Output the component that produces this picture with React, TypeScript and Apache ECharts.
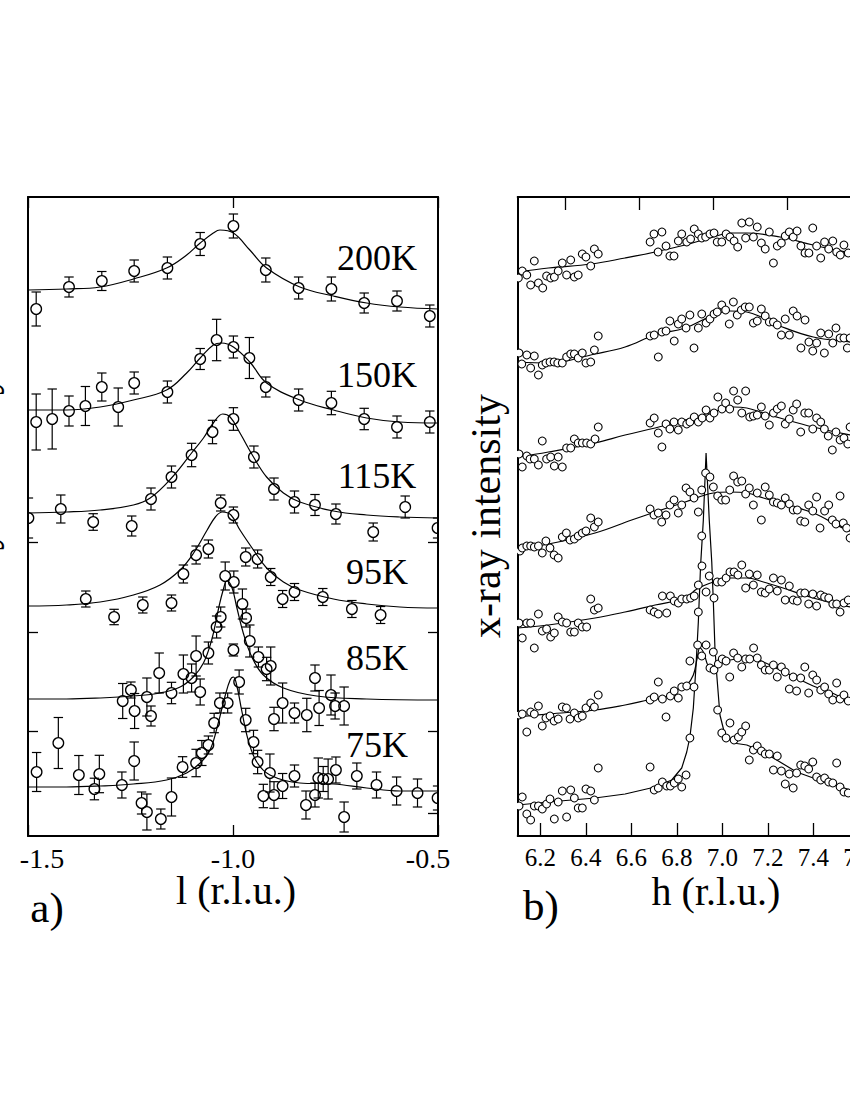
import React, { useEffect, useRef } from "react";
import * as echarts from "echarts";

// ---------- text / ticks ----------
const tempLabels = ["200K", "150K", "115K", "95K", "85K", "75K"];
const hTicks = [6.2, 6.4, 6.6, 6.8, 7.0, 7.2, 7.4, 7.6, 7.8];
const hTopTicks = [6.311, 6.634, 6.96, 7.283, 7.607];
const aLeftTicks = [1.05, 2.04, 2.94];
const aRightTicks = [0.23, 1.05, 2.04, 2.94];

// ---------- panel a: [l, intensity, error] ----------
const a200Pts = [
  [-1.48, 5.27, 0.17], [-1.4, 5.49, 0.1], [-1.32, 5.55, 0.095], [-1.241, 5.65, 0.11], [-1.16, 5.68, 0.11],
  [-1.08, 5.92, 0.115], [-0.999, 6.1, 0.12], [-0.92, 5.66, 0.12], [-0.84, 5.48, 0.11], [-0.76, 5.47, 0.12],
  [-0.68, 5.33, 0.1], [-0.6, 5.35, 0.1], [-0.52, 5.2, 0.11],
];
const a200Fit = [
  [-1.5, 5.46], [-1.406, 5.47], [-1.324, 5.49], [-1.243, 5.57], [-1.162, 5.68], [-1.113, 5.81], [-1.08, 5.93],
  [-1.048, 6.03], [-1.032, 6.06], [-0.999, 6.03], [-0.959, 5.86], [-0.918, 5.68], [-0.837, 5.49], [-0.755, 5.4],
  [-0.674, 5.33], [-0.593, 5.29], [-0.5, 5.27],
];
const a150Pts = [
  [-1.48, 4.14, 0.28], [-1.441, 4.17, 0.3], [-1.4, 4.25, 0.15], [-1.36, 4.3, 0.195], [-1.32, 4.49, 0.14],
  [-1.28, 4.29, 0.19], [-1.241, 4.53, 0.11], [-1.16, 4.44, 0.11], [-1.08, 4.77, 0.105], [-1.04, 4.96, 0.207],
  [-0.999, 4.89, 0.11], [-0.96, 4.78, 0.205], [-0.92, 4.49, 0.1], [-0.84, 4.36, 0.11], [-0.76, 4.33, 0.117],
  [-0.68, 4.17, 0.107], [-0.6, 4.09, 0.11], [-0.52, 4.14, 0.11],
];
const a150Fit = [
  [-1.5, 4.26], [-1.406, 4.26], [-1.324, 4.29], [-1.243, 4.36], [-1.162, 4.46], [-1.113, 4.63], [-1.08, 4.78],
  [-1.048, 4.91], [-1.028, 4.93], [-0.999, 4.89], [-0.959, 4.74], [-0.918, 4.53], [-0.837, 4.36], [-0.755, 4.26],
  [-0.674, 4.18], [-0.593, 4.14], [-0.5, 4.13],
];
const a115Pts = [
  [-1.499, 3.18, 0.2], [-1.42, 3.27, 0.14], [-1.341, 3.14, 0.083], [-1.247, 3.1, 0.1], [-1.2, 3.37, 0.11],
  [-1.15, 3.59, 0.11], [-1.101, 3.81, 0.117], [-1.05, 4.04, 0.117], [-0.999, 4.17, 0.113], [-0.949, 3.79, 0.11],
  [-0.9, 3.47, 0.11], [-0.85, 3.34, 0.11], [-0.8, 3.31, 0.105], [-0.749, 3.22, 0.1], [-0.658, 3.04, 0.09],
  [-0.58, 3.29, 0.11], [-0.501, 3.08, 0.1],
];
const a115Fit = [
  [-1.5, 3.23], [-1.406, 3.24], [-1.324, 3.26], [-1.243, 3.31], [-1.202, 3.38], [-1.15, 3.58], [-1.101, 3.83],
  [-1.072, 3.98], [-1.048, 4.13], [-1.025, 4.22], [-1.007, 4.19], [-0.983, 4.03], [-0.95, 3.79], [-0.918, 3.59],
  [-0.877, 3.43], [-0.837, 3.34], [-0.755, 3.25], [-0.674, 3.21], [-0.593, 3.19], [-0.5, 3.18],
];
const a95Pts = [
  [-1.359, 2.37, 0.08], [-1.29, 2.19, 0.077], [-1.22, 2.31, 0.08], [-1.15, 2.33, 0.08], [-1.121, 2.62, 0.09],
  [-1.09, 2.81, 0.09], [-1.06, 2.87, 0.09], [-1.03, 3.33, 0.08], [-0.999, 3.21, 0.08], [-0.969, 2.79, 0.09],
  [-0.94, 2.77, 0.09], [-0.908, 2.59, 0.085], [-0.879, 2.37, 0.085], [-0.85, 2.44, 0.085], [-0.781, 2.39, 0.085],
  [-0.71, 2.27, 0.085], [-0.64, 2.21, 0.085],
];
const a95Fit = [
  [-1.5, 2.3], [-1.406, 2.31], [-1.324, 2.34], [-1.243, 2.41], [-1.178, 2.51], [-1.129, 2.66], [-1.096, 2.83],
  [-1.063, 3.06], [-1.043, 3.19], [-1.026, 3.24], [-1.005, 3.21], [-0.983, 3.06], [-0.95, 2.86], [-0.918, 2.68],
  [-0.877, 2.54], [-0.837, 2.46], [-0.755, 2.37], [-0.674, 2.32], [-0.593, 2.29], [-0.5, 2.28],
];
const a85Pts = [
  [-1.269, 1.35, 0.175], [-1.249, 1.46, 0.08], [-1.24, 1.25, 0.175], [-1.21, 1.39, 0.19], [-1.2, 1.2, 0.1],
  [-1.18, 1.63, 0.2], [-1.15, 1.43, 0.107], [-1.121, 1.62, 0.19], [-1.101, 1.58, 0.14], [-1.08, 1.44, 0.13],
  [-1.09, 1.8, 0.2], [-1.06, 1.83, 0.11], [-1.04, 2.09, 0.11], [-1.03, 2.19, 0.1], [-1.019, 2.6, 0.14],
  [-0.998, 2.54, 0.11], [-0.977, 2.32, 0.15], [-0.968, 2.18, 0.09], [-0.959, 1.95, 0.16], [-0.999, 1.86, 0.06],
  [-0.938, 1.79, 0.1], [-0.918, 1.67, 0.117], [-0.908, 1.7, 0.19], [-0.879, 1.33, 0.2], [-0.9, 1.17, 0.117],
  [-0.85, 1.23, 0.1], [-0.82, 1.21, 0.167], [-0.8, 1.58, 0.13], [-0.79, 1.28, 0.175], [-0.761, 1.41, 0.2],
  [-0.751, 1.3, 0.13], [-0.729, 1.3, 0.19],
];
const a85Fit = [
  [-1.5, 1.37], [-1.406, 1.37], [-1.324, 1.38], [-1.243, 1.4], [-1.178, 1.43], [-1.129, 1.49], [-1.097, 1.59],
  [-1.072, 1.73], [-1.052, 1.96], [-1.036, 2.26], [-1.024, 2.46], [-1.015, 2.55], [-1.003, 2.49], [-0.991, 2.29],
  [-0.975, 2.03], [-0.954, 1.79], [-0.926, 1.61], [-0.877, 1.48], [-0.796, 1.4], [-0.674, 1.37], [-0.5, 1.36],
];
const a75Pts = [
  [-1.479, 0.64, 0.195], [-1.426, 0.93, 0.255], [-1.376, 0.61, 0.195], [-1.338, 0.47, 0.108], [-1.326, 0.62, 0.187],
  [-1.271, 0.51, 0.13], [-1.241, 0.75, 0.19], [-1.223, 0.33, 0.11], [-1.21, 0.24, 0.18], [-1.176, 0.17, 0.1],
  [-1.15, 0.39, 0.19], [-1.123, 0.69, 0.103], [-1.09, 0.73, 0.137], [-1.076, 0.83, 0.125], [-1.06, 0.91, 0.09],
  [-1.046, 1.13, 0.097], [-1.032, 1.33, 0.1], [-1.013, 1.33, 0.1], [-0.985, 1.54, 0.12], [-0.969, 1.16, 0.117],
  [-0.95, 0.94, 0.117], [-0.94, 0.74, 0.117], [-0.926, 0.4, 0.117], [-0.91, 0.63, 0.19], [-0.9, 0.41, 0.133],
  [-0.879, 0.5, 0.125], [-0.85, 0.6, 0.11], [-0.822, 0.31, 0.14], [-0.8, 0.41, 0.12], [-0.792, 0.58, 0.2],
  [-0.78, 0.57, 0.125], [-0.768, 0.57, 0.2], [-0.749, 0.66, 0.13], [-0.729, 0.19, 0.15], [-0.698, 0.6, 0.13],
  [-0.65, 0.51, 0.13], [-0.601, 0.45, 0.14], [-0.55, 0.43, 0.14], [-0.501, 0.38, 0.12],
];
const a75Fit = [
  [-1.5, 0.49], [-1.406, 0.49], [-1.324, 0.5], [-1.243, 0.52], [-1.162, 0.56], [-1.113, 0.63], [-1.08, 0.73],
  [-1.056, 0.86], [-1.036, 1.13], [-1.02, 1.39], [-1.007, 1.56], [-0.999, 1.59], [-0.99, 1.49], [-0.979, 1.26],
  [-0.963, 0.96], [-0.942, 0.74], [-0.91, 0.61], [-0.837, 0.53], [-0.755, 0.52], [-0.674, 0.48], [-0.593, 0.45],
  [-0.5, 0.45],
];

// ---------- panel b: [h, intensity] ----------
const b1Pts = [
  [6.103, 5.58], [6.12, 5.65], [6.14, 5.61], [6.157, 5.51], [6.173, 5.75], [6.191, 5.53], [6.21, 5.48], [6.227, 5.6],
  [6.245, 5.58], [6.261, 5.59], [6.278, 5.65], [6.296, 5.73], [6.315, 5.61], [6.333, 5.76], [6.349, 5.59], [6.366, 5.61],
  [6.384, 5.82], [6.4, 5.79], [6.421, 5.7], [6.437, 5.87], [6.454, 5.82],
  [6.682, 5.94], [6.699, 6.02], [6.734, 6.04], [6.717, 5.84], [6.752, 5.9], [6.769, 5.8], [6.787, 5.8], [6.806, 5.95],
  [6.821, 6.02], [6.843, 5.94], [6.86, 5.97], [6.876, 6.07], [6.894, 6.02], [6.909, 5.98], [6.926, 5.99], [6.945, 6.02],
  [6.963, 6.03], [6.977, 5.94], [6.997, 5.94], [7.016, 6.02], [7.033, 5.99], [7.051, 5.95], [7.067, 5.89], [7.085, 6.13],
  [7.102, 5.98], [7.118, 6.14], [7.136, 5.99], [7.153, 6.09], [7.171, 5.93], [7.188, 5.87], [7.206, 6.04], [7.224, 5.73],
  [7.241, 5.9], [7.259, 5.93], [7.276, 6.0], [7.294, 6.04], [7.311, 5.99], [7.328, 6.05], [7.345, 5.9], [7.363, 5.83],
  [7.38, 5.83], [7.397, 6.08], [7.414, 5.9], [7.432, 5.78], [7.449, 5.94], [7.467, 5.87], [7.485, 5.95], [7.502, 5.84],
  [7.518, 5.81], [7.534, 5.91], [7.553, 5.83],
];
const b1Fit = [
  [6.1, 5.64], [6.235, 5.68], [6.425, 5.72], [6.572, 5.78], [6.704, 5.84], [6.836, 5.91], [6.96, 5.99], [7.033, 6.03],
  [7.107, 6.03], [7.253, 5.99], [7.399, 5.91], [7.561, 5.83], [7.75, 5.74], [7.9, 5.68],
];
const b2Pts = [
  [6.106, 4.83], [6.118, 4.72], [6.14, 4.81], [6.157, 4.68], [6.173, 4.8], [6.191, 4.61], [6.208, 4.71], [6.224, 4.73],
  [6.242, 4.74], [6.26, 4.74], [6.276, 4.73], [6.296, 4.73], [6.315, 4.79], [6.333, 4.82], [6.349, 4.82], [6.366, 4.78],
  [6.384, 4.83], [6.4, 4.73], [6.421, 4.74], [6.437, 4.86], [6.454, 5.0],
  [6.682, 5.0], [6.7, 5.01], [6.718, 4.79], [6.734, 5.04], [6.752, 5.05], [6.769, 5.15], [6.788, 4.95], [6.806, 5.12],
  [6.821, 5.17], [6.84, 5.08], [6.857, 5.21], [6.875, 4.88], [6.894, 5.08], [6.909, 5.22], [6.928, 5.13], [6.945, 5.17],
  [6.963, 5.22], [6.977, 5.24], [6.997, 5.31], [7.014, 5.26], [7.03, 5.12], [7.048, 5.34], [7.065, 5.21], [7.083, 5.26],
  [7.1, 5.29], [7.118, 5.29], [7.136, 5.13], [7.153, 5.15], [7.171, 5.27], [7.188, 5.2], [7.206, 5.14], [7.224, 5.14],
  [7.241, 5.11], [7.259, 5.01], [7.276, 5.17], [7.294, 5.01], [7.311, 5.25], [7.328, 5.2], [7.345, 4.88], [7.363, 5.16],
  [7.38, 4.94], [7.397, 4.85], [7.414, 4.93], [7.432, 5.03], [7.448, 4.83], [7.467, 5.02], [7.485, 4.93], [7.499, 5.08],
  [7.517, 4.98], [7.534, 4.98], [7.549, 4.88], [7.561, 4.98],
];
const b2Fit = [
  [6.1, 4.74], [6.235, 4.73], [6.44, 4.82], [6.572, 4.89], [6.704, 5.01], [6.836, 5.08], [6.96, 5.21], [7.033, 5.25],
  [7.107, 5.24], [7.18, 5.18], [7.253, 5.1], [7.399, 4.99], [7.561, 4.94], [7.75, 4.88], [7.9, 4.84],
];
const b3Pts = [
  [6.106, 3.82], [6.12, 3.69], [6.14, 3.8], [6.154, 3.77], [6.173, 3.77], [6.191, 3.71], [6.208, 3.95], [6.227, 3.77],
  [6.245, 3.79], [6.261, 3.7], [6.278, 3.79], [6.296, 3.69], [6.315, 3.88], [6.333, 3.88], [6.349, 3.97], [6.366, 3.93],
  [6.384, 3.93], [6.403, 3.93], [6.421, 3.92], [6.44, 3.97], [6.454, 4.09],
  [6.682, 4.13], [6.7, 4.18], [6.718, 4.03], [6.734, 3.89], [6.752, 4.12], [6.769, 4.07], [6.787, 4.14], [6.806, 4.06],
  [6.821, 4.14], [6.843, 4.12], [6.857, 4.14], [6.876, 4.19], [6.894, 4.14], [6.911, 4.18], [6.928, 4.26], [6.945, 4.18],
  [6.963, 4.23], [6.98, 4.39], [6.998, 4.27], [7.014, 4.33], [7.032, 4.27], [7.049, 4.45], [7.067, 4.36], [7.085, 4.23],
  [7.102, 4.45], [7.12, 4.19], [7.136, 4.2], [7.153, 4.21], [7.171, 4.29], [7.188, 4.2], [7.206, 4.11], [7.224, 4.23],
  [7.241, 4.27], [7.259, 4.3], [7.276, 4.12], [7.294, 4.17], [7.311, 4.26], [7.326, 4.32], [7.344, 4.04], [7.362, 4.23],
  [7.379, 4.23], [7.397, 4.07], [7.414, 4.18], [7.432, 4.14], [7.448, 4.07], [7.465, 4.0], [7.483, 3.86], [7.499, 4.04],
  [7.517, 3.96], [7.534, 3.98], [7.551, 3.92], [7.561, 4.09],
];
const b3Fit = [
  [6.1, 3.79], [6.235, 3.84], [6.44, 3.93], [6.572, 4.01], [6.704, 4.08], [6.836, 4.16], [6.96, 4.24], [7.048, 4.29],
  [7.107, 4.28], [7.18, 4.23], [7.253, 4.18], [7.399, 4.09], [7.561, 4.01], [7.75, 3.93], [7.9, 3.88],
];
const b4Pts = [
  [6.11, 2.85], [6.12, 2.88], [6.14, 2.9], [6.157, 2.9], [6.173, 2.89], [6.191, 2.9], [6.208, 2.83], [6.224, 2.95],
  [6.242, 2.88], [6.26, 2.81], [6.278, 2.78], [6.296, 2.99], [6.314, 3.03], [6.33, 2.96], [6.349, 2.97], [6.366, 3.0],
  [6.384, 3.03], [6.4, 3.05], [6.421, 3.18], [6.437, 3.09], [6.454, 3.14],
  [6.682, 3.27], [6.699, 3.21], [6.718, 3.23], [6.733, 3.14], [6.752, 3.21], [6.769, 3.31], [6.787, 3.36], [6.806, 3.23],
  [6.821, 3.31], [6.84, 3.48], [6.857, 3.44], [6.875, 3.38], [6.894, 3.24], [6.909, 3.46], [6.96, 3.49], [6.979, 3.4],
  [6.997, 3.36], [7.014, 3.36], [7.032, 3.46], [7.049, 3.6], [7.067, 3.54], [7.085, 3.55], [7.102, 3.42], [7.118, 3.48],
  [7.136, 3.31], [7.153, 3.43], [7.171, 3.16], [7.188, 3.49], [7.206, 3.41], [7.224, 3.34], [7.241, 3.33], [7.259, 3.31],
  [7.276, 3.38], [7.294, 3.32], [7.311, 3.26], [7.329, 3.26], [7.344, 3.15], [7.362, 3.14], [7.379, 3.31], [7.397, 3.25],
  [7.414, 3.39], [7.429, 3.08], [7.449, 3.25], [7.467, 3.31], [7.483, 3.16], [7.499, 3.12], [7.517, 3.4], [7.531, 3.13],
  [7.546, 3.08], [7.561, 2.98],
];
const b4Fit = [
  [6.1, 2.88], [6.235, 2.92], [6.44, 3.03], [6.601, 3.16], [6.704, 3.24], [6.836, 3.34], [6.96, 3.43], [7.033, 3.44],
  [7.107, 3.43], [7.18, 3.38], [7.253, 3.33], [7.399, 3.23], [7.561, 3.05], [7.75, 2.95], [7.9, 2.9],
];
const b5Pts = [
  [6.106, 2.13], [6.12, 1.98], [6.14, 2.13], [6.157, 2.13], [6.173, 1.88], [6.191, 2.22], [6.208, 2.05], [6.227, 2.07],
  [6.245, 1.99], [6.261, 2.03], [6.278, 2.19], [6.296, 2.14], [6.315, 2.13], [6.333, 2.04], [6.349, 2.04], [6.366, 2.13],
  [6.384, 2.09], [6.403, 2.09], [6.421, 2.37], [6.437, 2.26], [6.454, 2.28],
  [6.682, 2.26], [6.7, 2.24], [6.718, 2.22], [6.736, 2.4], [6.755, 2.23], [6.771, 2.4], [6.788, 2.35], [6.806, 2.33],
  [6.821, 2.37], [6.843, 2.37], [6.86, 2.38], [6.876, 2.4], [6.894, 2.51], [6.928, 2.44], [6.963, 2.38], [6.977, 2.54],
  [6.997, 2.54], [7.016, 2.58], [7.033, 2.64], [7.051, 2.64], [7.068, 2.61], [7.085, 2.71], [7.102, 2.48], [7.118, 2.62],
  [7.136, 2.51], [7.153, 2.61], [7.171, 2.44], [7.188, 2.43], [7.206, 2.47], [7.224, 2.58], [7.241, 2.45], [7.259, 2.56],
  [7.276, 2.36], [7.294, 2.5], [7.311, 2.36], [7.329, 2.35], [7.344, 2.43], [7.362, 2.43], [7.379, 2.32], [7.397, 2.42],
  [7.414, 2.3], [7.432, 2.41], [7.449, 2.39], [7.467, 2.38], [7.485, 2.32], [7.502, 2.32], [7.517, 2.24], [7.534, 2.33],
  [7.553, 2.36],
];
const b5Fit = [
  [6.1, 2.08], [6.235, 2.11], [6.44, 2.18], [6.572, 2.24], [6.704, 2.31], [6.836, 2.38], [6.887, 2.47], [6.96, 2.54],
  [7.033, 2.58], [7.107, 2.58], [7.18, 2.54], [7.253, 2.49], [7.399, 2.38], [7.561, 2.29], [7.75, 2.2], [7.9, 2.15],
];
const b6Pts = [
  [6.106, 1.21], [6.12, 1.22], [6.14, 1.04], [6.157, 1.24], [6.173, 1.22], [6.191, 1.3], [6.208, 1.1], [6.224, 1.18],
  [6.242, 1.2], [6.26, 1.15], [6.278, 1.17], [6.296, 1.29], [6.314, 1.28], [6.33, 1.17], [6.349, 1.23], [6.366, 1.18],
  [6.384, 1.2], [6.4, 1.28], [6.421, 1.33], [6.437, 1.29], [6.454, 1.41],
  [6.682, 1.36], [6.7, 1.39], [6.718, 1.54], [6.736, 1.37], [6.752, 1.19], [6.771, 1.4], [6.788, 1.45], [6.806, 1.38],
  [6.821, 1.49], [6.843, 1.5], [6.857, 1.75], [6.875, 1.49], [6.891, 1.91], [6.909, 1.8], [6.928, 1.91], [6.945, 1.68],
  [6.96, 1.84], [6.963, 1.66], [6.982, 1.72], [6.999, 1.77], [7.016, 1.75], [7.032, 1.59], [7.049, 1.83], [7.067, 1.78],
  [7.085, 1.69], [7.102, 1.77], [7.12, 1.77], [7.137, 1.88], [7.153, 1.78], [7.171, 1.71], [7.188, 1.66], [7.206, 1.66],
  [7.224, 1.71], [7.241, 1.59], [7.259, 1.69], [7.276, 1.64], [7.294, 1.47], [7.311, 1.59], [7.326, 1.45], [7.344, 1.58],
  [7.362, 1.69], [7.379, 1.43], [7.397, 1.61], [7.414, 1.56], [7.432, 1.46], [7.449, 1.49], [7.467, 1.42], [7.485, 1.36],
  [7.502, 1.53], [7.517, 1.37], [7.534, 1.41], [7.553, 1.35],
];
const b6Fit = [
  [6.1, 1.19], [6.235, 1.22], [6.44, 1.26], [6.572, 1.31], [6.674, 1.36], [6.777, 1.41], [6.813, 1.48], [6.843, 1.51],
  [6.872, 1.61], [6.889, 1.78], [6.901, 1.88], [6.916, 1.84], [6.945, 1.69], [6.975, 1.71], [7.033, 1.76], [7.121, 1.78],
  [7.18, 1.74], [7.253, 1.66], [7.326, 1.58], [7.399, 1.5], [7.473, 1.44], [7.561, 1.35], [7.75, 1.25], [7.9, 1.2],
];
const b7Pts = [
  [6.106, 0.3], [6.12, 0.39], [6.14, 0.22], [6.157, 0.16], [6.173, 0.3], [6.191, 0.3], [6.208, 0.27], [6.227, 0.32],
  [6.242, 0.37], [6.261, 0.17], [6.278, 0.34], [6.296, 0.45], [6.315, 0.19], [6.333, 0.46], [6.349, 0.38], [6.366, 0.28],
  [6.384, 0.28], [6.4, 0.47], [6.421, 0.45], [6.437, 0.36], [6.454, 0.68],
  [6.682, 0.69], [6.7, 0.46], [6.718, 0.48], [6.736, 0.54], [6.755, 0.5], [6.771, 0.5], [6.788, 0.53], [6.806, 0.57],
  [6.821, 0.49], [6.84, 0.61], [6.857, 0.98], [6.894, 2.24], [6.909, 3.0], [6.91, 2.7], [6.926, 3.63], [6.942, 2.6],
  [6.945, 3.59], [6.979, 1.26], [6.997, 1.03], [7.016, 0.98], [7.033, 1.13], [7.051, 0.96], [7.07, 0.99], [7.085, 1.04],
  [7.102, 1.1], [7.118, 0.76], [7.136, 0.86], [7.153, 0.9], [7.171, 0.85], [7.188, 0.82], [7.206, 0.82], [7.224, 0.66],
  [7.241, 0.8], [7.259, 0.65], [7.276, 0.52], [7.294, 0.62], [7.311, 0.48], [7.326, 0.63], [7.344, 0.71], [7.362, 0.7],
  [7.379, 0.67], [7.397, 0.74], [7.414, 0.59], [7.432, 0.56], [7.449, 0.58], [7.467, 0.54], [7.485, 0.53], [7.502, 0.73],
  [7.517, 0.49], [7.534, 0.44], [7.553, 0.43],
];
const b7Fit = [
  [6.1, 0.31], [6.235, 0.34], [6.44, 0.38], [6.572, 0.42], [6.704, 0.49], [6.777, 0.56], [6.821, 0.68], [6.843, 0.84],
  [6.857, 0.99], [6.872, 1.28], [6.884, 1.71], [6.894, 2.14], [6.904, 2.71], [6.916, 3.16], [6.928, 3.83], [6.942, 3.16],
  [6.953, 2.74], [6.96, 2.34], [6.967, 1.88], [6.975, 1.61], [6.989, 1.21], [7.011, 1.01], [7.048, 0.93], [7.107, 0.91],
  [7.18, 0.84], [7.253, 0.74], [7.326, 0.64], [7.399, 0.58], [7.473, 0.52], [7.561, 0.46], [7.75, 0.42], [7.9, 0.4],
];

// ---------- layout / styles ----------
const FONT = '"Liberation Serif", "Times New Roman", serif';
const GRID_A = { left: 28, top: 197, width: 410, height: 639 };
const GRID_B = { left: 517.7, top: 197, width: 409.5, height: 639 };
const LABEL_X = 377;
const LABEL_Y = [258, 375, 476, 572, 658, 745];
const R_A = 5.3;
const R_B = 3.9;

function renderA(params: any, api: any) {
  const x = api.value(0);
  const y = api.value(1);
  const e = api.value(2);
  const c = api.coord([x, y]);
  const t = api.coord([x, y + e]);
  const b = api.coord([x, y - e]);
  const ls = { stroke: "#000", lineWidth: 1.2 };
  const cap = 4.7;
  const children: any[] = [
    { type: "circle", shape: { cx: c[0], cy: c[1], r: R_A }, style: { fill: "none", stroke: "#000", lineWidth: 1.3 } },
  ];
  if (t[1] < c[1] - R_A) {
    children.push({ type: "line", shape: { x1: c[0], y1: c[1] - R_A, x2: c[0], y2: t[1] }, style: ls });
  }
  if (b[1] > c[1] + R_A) {
    children.push({ type: "line", shape: { x1: c[0], y1: c[1] + R_A, x2: c[0], y2: b[1] }, style: ls });
  }
  children.push({ type: "line", shape: { x1: c[0] - cap, y1: t[1], x2: c[0] + cap, y2: t[1] }, style: ls });
  children.push({ type: "line", shape: { x1: c[0] - cap, y1: b[1], x2: c[0] + cap, y2: b[1] }, style: ls });
  return { type: "group", children };
}

function renderB(params: any, api: any) {
  const c = api.coord([api.value(0), api.value(1)]);
  return {
    type: "circle",
    shape: { cx: c[0], cy: c[1], r: R_B },
    style: { fill: "#fff", stroke: "#000", lineWidth: 1.1 },
  };
}

function buildOption() {
  const aSets = [
    [a200Pts, a200Fit], [a150Pts, a150Fit], [a115Pts, a115Fit],
    [a95Pts, a95Fit], [a85Pts, a85Fit], [a75Pts, a75Fit],
  ];
  const bSets = [
    [b1Pts, b1Fit], [b2Pts, b2Fit], [b3Pts, b3Fit], [b4Pts, b4Fit],
    [b5Pts, b5Fit], [b6Pts, b6Fit], [b7Pts, b7Fit],
  ];
  const series: any[] = [];
  aSets.forEach(([pts, fit]) => {
    series.push({
      type: "line", xAxisIndex: 0, yAxisIndex: 0, data: fit, smooth: 0.4, symbol: "none",
      lineStyle: { color: "#000", width: 1.2 }, z: 2, silent: true, clip: true,
    });
    series.push({
      type: "custom", xAxisIndex: 0, yAxisIndex: 0, data: pts, renderItem: renderA,
      encode: { x: 0, y: 1 }, clip: true, z: 3, silent: true,
    });
  });
  bSets.forEach(([pts, fit], i) => {
    series.push({
      type: "line", xAxisIndex: 2, yAxisIndex: 2, data: fit, smooth: i === 6 ? false : 0.4, symbol: "none",
      lineStyle: { color: "#000", width: 1.2 }, z: 2, silent: true, clip: true,
    });
    series.push({
      type: "custom", xAxisIndex: 2, yAxisIndex: 2, data: pts, renderItem: renderB,
      encode: { x: 0, y: 1 }, clip: true, z: 3, silent: true,
    });
  });

  const boxLine = { show: true, onZero: false, lineStyle: { color: "#000", width: 2 } };
  const tickStyle = { color: "#000", width: 1.3 };

  const graphic: any[] = tempLabels.map((t, i) => ({
    type: "text", x: LABEL_X, y: LABEL_Y[i], silent: true,
    style: {
      text: t, fill: "#000", font: `36px ${FONT}`,
      align: "center", verticalAlign: "middle", textAlign: "center", textVerticalAlign: "middle",
    },
  }));
  const txt = (text: string, x: number, y: number, size: number, rot = 0) => ({
    type: "text", x, y, rotation: rot, silent: true,
    style: {
      text, fill: "#000", font: `${size}px ${FONT}`,
      align: "center", verticalAlign: "middle", textAlign: "center", textVerticalAlign: "middle",
    },
  });
  graphic.push(txt("l (r.l.u.)", 236, 890, 40));
  graphic.push(txt("h (r.l.u.)", 716, 891, 40));
  graphic.push(txt("a)", 47, 907, 43));
  graphic.push(txt("b)", 541, 905, 43));
  graphic.push(txt("x-ray intensity", 486, 516, 42, Math.PI / 2));
  graphic.push(txt("x-ray intensity", -19, 496, 42, Math.PI / 2));

  const labelA = {
    show: true, color: "#000", fontFamily: FONT, fontSize: 28, margin: 8,
    formatter: (v: number) => {
      const s = v.toFixed(1);
      if (v < -1.49) return `{lft|${s}}`;
      if (v > -0.51) return `{rgt|${s}}`;
      return `{mid|${s}}`;
    },
    rich: {
      lft: { fontFamily: FONT, fontSize: 28, color: "#000", padding: [0, 0, 0, 28] },
      rgt: { fontFamily: FONT, fontSize: 28, color: "#000", padding: [0, 20, 0, 0] },
      mid: { fontFamily: FONT, fontSize: 28, color: "#000" },
    },
  };

  return {
    animation: false,
    backgroundColor: "#fff",
    grid: [
      { ...GRID_A, containLabel: false },
      { ...GRID_B, containLabel: false },
    ],
    xAxis: [
      {
        gridIndex: 0, type: "value", min: -1.5, max: -0.5, interval: 0.5, position: "bottom",
        axisLine: boxLine,
        axisTick: { show: true, inside: true, length: 11, lineStyle: tickStyle },
        axisLabel: labelA,
        splitLine: { show: false },
      },
      {
        gridIndex: 0, type: "value", min: -1.5, max: -0.5, interval: 0.5, position: "top",
        axisLine: boxLine,
        axisTick: { show: true, inside: true, length: 11, lineStyle: tickStyle },
        axisLabel: { show: false },
        splitLine: { show: false },
      },
      {
        gridIndex: 1, type: "value", min: 6.1, max: 7.9, position: "bottom",
        axisLine: boxLine,
        axisTick: { show: true, inside: true, length: 13, lineStyle: tickStyle, customValues: hTicks },
        axisLabel: {
          show: true, color: "#000", fontFamily: FONT, fontSize: 25, margin: 9, customValues: hTicks,
          formatter: (v: number) => v.toFixed(1),
        },
        splitLine: { show: false },
      },
      {
        gridIndex: 1, type: "value", min: 6.1, max: 7.9, position: "top",
        axisLine: boxLine,
        axisTick: { show: true, inside: true, length: 13, lineStyle: tickStyle, customValues: hTopTicks },
        axisLabel: { show: false },
        splitLine: { show: false },
      },
    ],
    yAxis: [
      {
        gridIndex: 0, type: "value", min: 0, max: 6.39, position: "left",
        axisLine: boxLine,
        axisTick: { show: true, inside: true, length: 10, lineStyle: tickStyle, customValues: aLeftTicks },
        axisLabel: { show: false },
        splitLine: { show: false },
      },
      {
        gridIndex: 0, type: "value", min: 0, max: 6.39, position: "right",
        axisLine: boxLine,
        axisTick: { show: true, inside: true, length: 10, lineStyle: tickStyle, customValues: aRightTicks },
        axisLabel: { show: false },
        splitLine: { show: false },
      },
      {
        gridIndex: 1, type: "value", min: 0, max: 6.39, position: "left",
        axisLine: boxLine,
        axisTick: { show: false },
        axisLabel: { show: false },
        splitLine: { show: false },
      },
      {
        gridIndex: 1, type: "value", min: 0, max: 6.39, position: "right",
        axisLine: boxLine,
        axisTick: { show: false },
        axisLabel: { show: false },
        splitLine: { show: false },
      },
    ],
    graphic,
    series,
  };
}

export default function App() {
  const ref = useRef<HTMLDivElement>(null);
  useEffect(() => {
    document.body.style.margin = "0";
    if (!ref.current) return;
    const chart = echarts.init(ref.current, null, { renderer: "svg" });
    chart.setOption(buildOption() as any);
    return () => chart.dispose();
  }, []);
  return (
    <div style={{ width: 850, height: 1100, overflow: "hidden", position: "relative", background: "#fff" }}>
      <div ref={ref} style={{ width: 940, height: 1100 }} />
    </div>
  );
}
